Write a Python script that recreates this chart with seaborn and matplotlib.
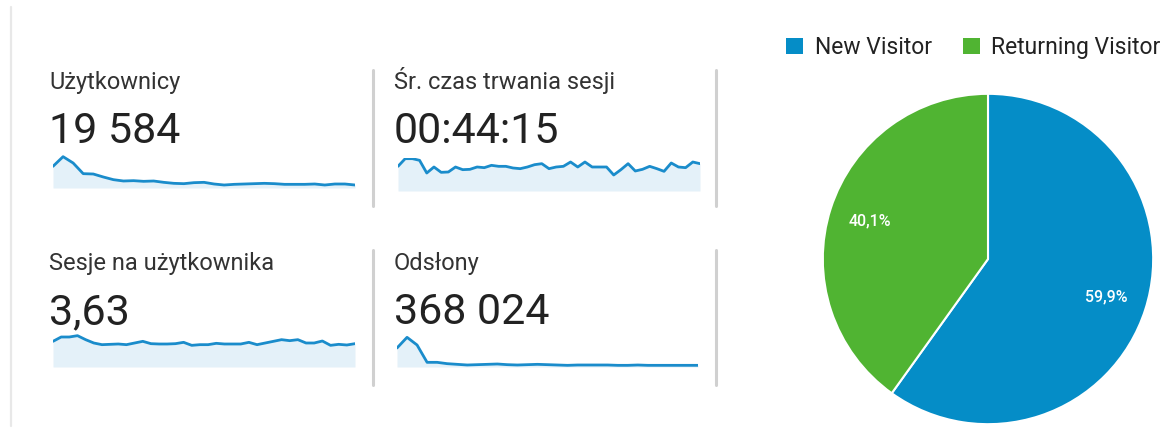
import numpy as np
import matplotlib
matplotlib.use("Agg")
import matplotlib.pyplot as plt
import seaborn as sns
from matplotlib.patches import Patch
from matplotlib.lines import Line2D

# metric tiles
metric_labels = ["Użytkownicy", "Śr. czas trwania sesji", "Sesje na użytkownika", "Odsłony"]
metric_values = ["19 584", "00:44:15", "3,63", "368 024"]

# daily sparkline values (relative units)
users_trend = [65, 94, 75, 43, 42, 33, 25, 21, 22, 20, 21, 17, 14, 13, 16, 17,
               12, 9, 11, 12, 13, 14, 13, 11, 11, 11, 12, 9, 12, 12, 9]
duration_trend = [74, 97, 97, 92, 54, 72, 56, 57, 72, 64, 65, 72, 70, 77, 74, 74,
                  69, 67, 72, 79, 82, 67, 72, 74, 87, 72, 87, 72, 72, 72, 48, 64,
                  82, 60, 65, 74, 67, 59, 84, 72, 70, 87, 82]
sessions_trend = [77, 90, 90, 94, 82, 72, 67, 68, 69, 67, 72, 77, 70, 69, 69, 70,
                  74, 65, 67, 67, 71, 69, 69, 69, 74, 67, 72, 77, 82, 79, 82, 72,
                  72, 78, 65, 68, 66, 70]
pageviews_trend = [57, 89, 66, 14, 14, 10, 8, 6, 7, 8, 9, 7, 6, 7, 8, 7,
                   6, 5, 6, 6, 6, 6, 5, 5, 6, 5, 5, 5, 5, 5, 5]
trends = [users_trend, duration_trend, sessions_trend, pageviews_trend]

# visitor split
visitor_types = ["New Visitor", "Returning Visitor"]
visitor_share = [59.9, 40.1]
visitor_colors = ["#058dc7", "#50b432"]

sns.set_theme(style="white")
plt.rcParams["font.family"] = ["Roboto", "DejaVu Sans"]

W, H = 1166, 432
fig = plt.figure(figsize=(W / 100, H / 100), dpi=100)
fig.patch.set_facecolor("white")


def px_axes(x0, y0, x1, y1):
    return fig.add_axes([x0 / W, 1 - y1 / H, (x1 - x0) / W, (y1 - y0) / H])


def px_text(x, y, s, **kw):
    fig.text(x / W, 1 - y / H, s, va="baseline", ha="left", **kw)


# frame lines
fig.add_artist(Line2D([11 / W, 11 / W], [1 - 7 / H, 1 - 426 / H], color="#e8e8e8", lw=1.6))
for sx, y0, y1 in [(373, 70, 206), (373, 250, 385), (716, 70, 206), (716, 250, 385)]:
    fig.add_artist(Line2D([sx / W, sx / W], [1 - y0 / H, 1 - y1 / H], color="#d0d0d0", lw=2.2))

# tiles: (text x, label baseline, value baseline, spark x0, spark x1, spark baseline)
tiles = [
    (49, 89, 143, 53, 355, 188),
    (394, 89, 143, 398, 700, 191),
    (49, 270, 324, 53, 355, 367),
    (394, 270, 324, 397, 698, 367),
]

for (tx, ly, vy, sx0, sx1, sb), label, value, trend in zip(tiles, metric_labels, metric_values, trends):
    px_text(tx, ly, label, fontsize=17, color="#333333")
    px_text(tx, vy, value, fontsize=31, color="#222222")
    ax = px_axes(sx0, sb - 100 / 3, sx1, sb)
    days = np.arange(len(trend))
    ax.fill_between(days, trend, 0, color="#e4f1f9", lw=0)
    sns.lineplot(x=days, y=trend, ax=ax, color="#1a8ccb", linewidth=2.0)
    ax.set_xlim(0, len(trend) - 1)
    ax.set_ylim(0, 100)
    ax.set_axis_off()

# pie
pax = px_axes(988 - 166, 259 - 166, 988 + 166, 259 + 166)
pax.pie(visitor_share, colors=visitor_colors, startangle=90, counterclock=False,
        autopct=lambda p: f"{p:.1f}%".replace(".", ","), pctdistance=0.75,
        wedgeprops=dict(edgecolor="white", linewidth=1.5),
        textprops=dict(color="white", fontsize=11.5, fontweight="medium"))
pax.set_xlim(-1.005, 1.005)
pax.set_ylim(-1.005, 1.005)
pax.set_aspect("equal")

handles = [Patch(facecolor=c, edgecolor="none") for c in visitor_colors]
fig.legend(handles, visitor_types, loc="upper left", bbox_to_anchor=(786 / W, 1 - 36 / H),
           ncol=2, frameon=False, fontsize=16.5, handlelength=0.75, handleheight=0.75,
           handletextpad=0.5, columnspacing=1.35, labelcolor="#222222", borderaxespad=0,
           borderpad=0)

fig.savefig("out.png", dpi=100, facecolor="white")
